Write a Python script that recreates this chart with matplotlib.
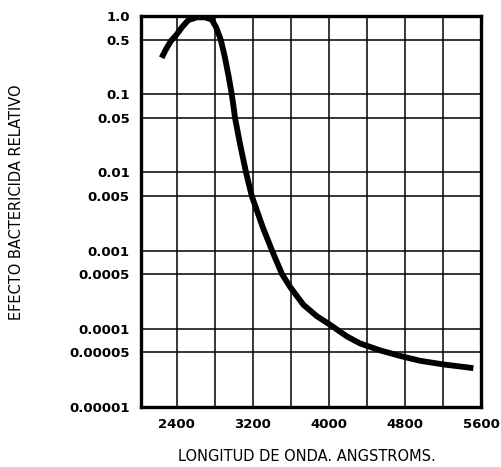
import matplotlib
matplotlib.use("Agg")
import matplotlib.pyplot as plt
from matplotlib.ticker import FixedLocator, NullFormatter

# === datos (longitud de onda en Å, efecto relativo) ===
longitud = [2242, 2290, 2340, 2400, 2456, 2522, 2610, 2697, 2768, 2813, 2862, 2905,
            2945, 2978, 3000, 3012, 3065, 3128, 3188, 3303, 3401, 3506, 3590, 3730,
            3871, 4028, 4186, 4325, 4535, 4745, 4955, 5200, 5515]
efecto = [0.292, 0.38, 0.48, 0.58, 0.72, 0.885, 0.96, 0.96, 0.90, 0.72, 0.5, 0.3,
          0.17, 0.1, 0.065, 0.05, 0.0231, 0.01, 0.005, 0.002, 0.001, 0.0005,
          0.000344, 0.000203, 0.000145, 0.000109, 0.00008, 0.000065, 0.000053,
          0.000045, 0.000039, 0.000035, 0.0000314]

yticks = [1.0, 0.5, 0.1, 0.05, 0.01, 0.005, 0.001, 0.0005, 0.0001, 0.00005, 0.00001]
ylabels = ["1.0", "0.5", "0.1", "0.05", "0.01", "0.005", "0.001", "0.0005",
           "0.0001", "0.00005", "0.00001"]
xticks = [2400, 3200, 4000, 4800, 5600]
xminor = [2800, 3600, 4400, 5200]

fig = plt.figure(figsize=(5.01, 4.67), dpi=100)
ax = fig.add_axes([0.2814, 0.1285, 0.6796, 0.8373])
ax.set_yscale("log")
ax.set_xlim(2025, 5600)
ax.set_ylim(1e-5, 1.0)

ax.plot(longitud, efecto, color="black", lw=4.2, solid_capstyle="butt",
        solid_joinstyle="round", zorder=3)

ax.yaxis.set_major_locator(FixedLocator(yticks))
ax.yaxis.set_minor_locator(FixedLocator([]))
ax.yaxis.set_minor_formatter(NullFormatter())
ax.set_yticklabels(ylabels, fontsize=9.5, fontweight="bold")
ax.xaxis.set_major_locator(FixedLocator(xticks))
ax.xaxis.set_minor_locator(FixedLocator(xminor))
ax.set_xticklabels([str(v) for v in xticks], fontsize=9.5, fontweight="bold")
ax.tick_params(which="both", length=0)
ax.tick_params(axis="y", pad=8)
ax.tick_params(axis="x", pad=8)
ax.grid(True, which="both", color="black", lw=1.1)
for s in ax.spines.values():
    s.set_linewidth(2.4)

ax.set_ylabel("EFECTO BACTERICIDA RELATIVO", fontsize=10.5)
ax.yaxis.set_label_coords(-0.345, 0.523)
ax.set_xlabel("LONGITUD DE ONDA. ANGSTROMS.", fontsize=10.5)
ax.xaxis.set_label_coords(0.487, -0.108)

fig.savefig("out.png", dpi=100)
